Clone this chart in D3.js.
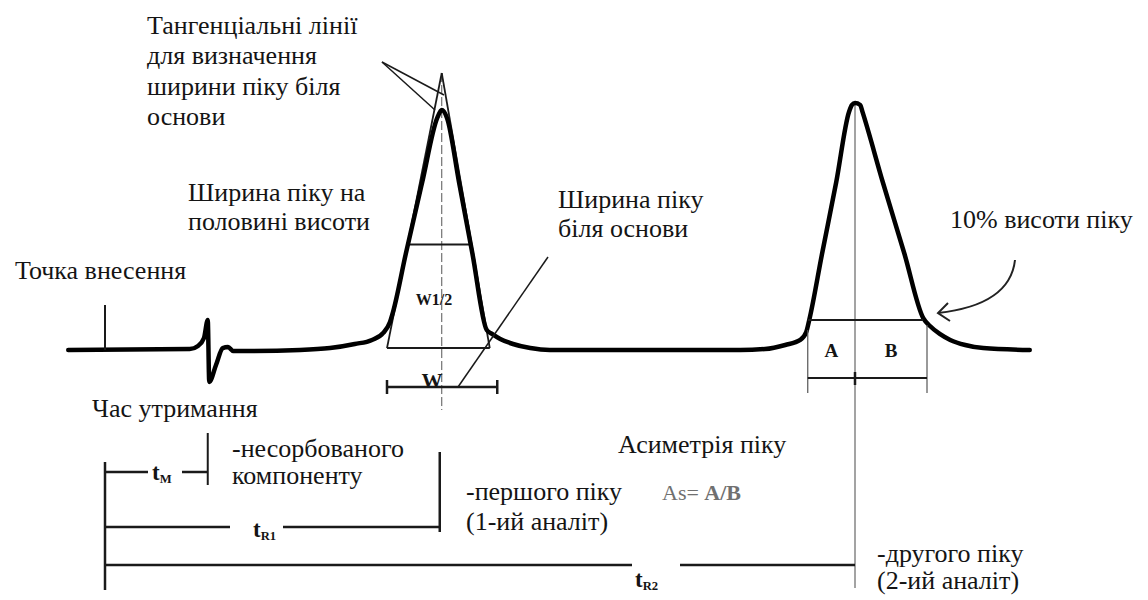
<!DOCTYPE html>
<html><head><meta charset="utf-8">
<script src="https://cdn.jsdelivr.net/npm/d3@7"></script>
<style>
body{margin:0;background:#fff}
svg{display:block}
text{font-family:"Liberation Serif","Times New Roman",serif;fill:#141414}
</style>
</head><body>
<svg id="c" width="1148" height="600"></svg>
<script>
// ---- data (time in arbitrary min, signal in % of peak 1 height) ----
const traceTime = [-0.49, 1.13, 1.24, 1.32, 1.37, 1.39, 1.48, 1.57, 1.64, 1.71, 1.87, 2.6, 3.0, 3.33, 3.56, 3.71, 3.8, 3.84, 4.01, 4.23, 4.43, 4.49, 4.56, 4.72, 4.90, 5.09, 5.16, 5.27, 5.44, 5.67, 5.93, 8.47, 8.8, 9.07, 9.27, 9.35, 9.39, 9.56, 9.75, 9.92, 9.96, 10.0, 10.07, 10.1, 10.37, 10.66, 10.91, 11.0, 11.13, 11.27, 11.47, 11.71, 12.33];
const traceSignal = [0, 0.4, 1.7, 5, 12.5, -13.3, -6.25, 0.8, 1.25, -0.4, -0.4, 0, 0.8, 2.5, 4.2, 7.1, 11.7, 15.8, 40, 70, 96.7, 100, 96.7, 70, 40, 8.3, 6.7, 4.6, 2.5, 0.8, 0, 0, 0.4, 2.1, 4.2, 7.5, 12.5, 40, 70, 99.2, 102.1, 102.9, 102.1, 99.2, 70, 40, 13.3, 10, 6.7, 4.2, 2.1, 0.8, 0];
const injectionTime = 0;
const deadTime = 1.37;
const retentionTimes = [4.49, 10.0];
const tangentBase = [3.76, 5.13];
const tangentApexSignal = 115.4;
const halfHeightSignal = 44;
const baseWidthBar = [3.76, 5.23];
const tenPercentSignal = 12.5;
const tenPercentBounds = [9.37, 10.91];
const asymBounds = [9.37, 10.96];

const tangentNote = ["Тангенціальні лінії", "для визначення", "ширини піку біля", "основи"];
const halfWidthNote = ["Ширина піку на", "половині висоти"];
const baseWidthNote = ["Ширина піку", "біля основи"];
const tenPercentNote = ["10% висоти піку"];
const injectionNote = ["Точка внесення"];
const retentionNote = ["Час утримання"];
const unretainedNote = ["-несорбованого", "компоненту"];
const firstPeakNote = ["-першого піку", "(1-ий аналіт)"];
const secondPeakNote = ["-другого піку", "(2-ий аналіт)"];
const asymNote = ["Асиметрія піку"];
const formulaParts = ["As= ", "A/B"];
const bracketLabels = [["t", "M"], ["t", "R1"], ["t", "R2"]];
const asymLetters = ["A", "B"];

// ---- scales ----
const x = d3.scaleLinear().domain([0, 10]).range([105, 855]);
const y = d3.scaleLinear().domain([0, 100]).range([350, 110]);

const svg = d3.select("#c");
const g = svg.append("g");

const thin = (x1, y1, x2, y2, w = 2, col = "#1a1a1a", dash = null) => {
  const l = g.append("line").attr("x1", x1).attr("y1", y1).attr("x2", x2).attr("y2", y2)
    .attr("stroke", col).attr("stroke-width", w).attr("stroke-linecap", "butt");
  if (dash) l.attr("stroke-dasharray", dash);
  return l;
};

// center lines
thin(x(retentionTimes[0]), y(tangentApexSignal), x(retentionTimes[0]), 410, 1, "#555", "9,3");
thin(x(retentionTimes[1]), y(102.9), x(retentionTimes[1]), 588, 1.2, "#666");

// tangent lines
const apexX = x(retentionTimes[0]), apexY = y(tangentApexSignal);
thin(x(tangentBase[0]), y(0.8), apexX, apexY, 1.8);
thin(x(tangentBase[1]), y(0.8), apexX, apexY, 1.8);
thin(x(tangentBase[0]), y(0.8), x(tangentBase[1]), y(0.8), 2);
// half height line between tangents
const hy = y(halfHeightSignal);
const fx = (bx) => bx + (apexX - bx) * (y(0.8) - hy) / (y(0.8) - apexY);
thin(fx(x(tangentBase[0])), hy, fx(x(tangentBase[1])), hy, 2);

// main trace
const line = d3.line().x(d => x(d[0])).y(d => y(d[1])).curve(d3.curveMonotoneX);
g.append("path").datum(traceTime.map((t, i) => [t, traceSignal[i]]))
  .attr("d", line).attr("fill", "none").attr("stroke", "#000")
  .attr("stroke-width", 4.5).attr("stroke-linejoin", "round").attr("stroke-linecap", "round");

// injection mark
thin(x(injectionTime), y(0), x(injectionTime), y(18.75), 2);

// pointer lines for tangent note
thin(382, 62, 435, 110, 1.5);
thin(382, 62, 444, 95, 1.5);

// base width bar W
const wy = 387;
thin(x(baseWidthBar[0]), wy, x(baseWidthBar[1]), wy, 2.5);
thin(x(baseWidthBar[0]), wy - 7, x(baseWidthBar[0]), wy + 7, 2.5);
thin(x(baseWidthBar[1]), wy - 7, x(baseWidthBar[1]), wy + 7, 2.5);
g.append("text").attr("x", 432).attr("y", wy + 1).attr("text-anchor", "middle")
  .attr("font-size", 21).attr("font-weight", "bold").text("W");
g.append("text").attr("x", 434).attr("y", 305).attr("text-anchor", "middle")
  .attr("font-size", 16).attr("font-weight", "bold").text("W1/2");

// pointer from base width note
thin(548, 257, 458, 387, 1.5);

// peak 2 : 10% line and asymmetry bar
thin(x(tenPercentBounds[0]), y(tenPercentSignal), x(tenPercentBounds[1]), y(tenPercentSignal), 2);
thin(x(asymBounds[0]), 330, x(asymBounds[0]), 393, 1.2, "#555");
thin(x(asymBounds[1]), 325, x(asymBounds[1]), 393, 1.2, "#555");
thin(x(asymBounds[0]), 378, x(asymBounds[1]), 378, 2);
thin(x(retentionTimes[1]), 372, x(retentionTimes[1]), 385, 2.5);
g.append("text").attr("x", x((asymBounds[0] + retentionTimes[1]) / 2)).attr("y", 357)
  .attr("text-anchor", "middle").attr("font-size", 19).attr("font-weight", "bold").text(asymLetters[0]);
g.append("text").attr("x", x((asymBounds[1] + retentionTimes[1]) / 2)).attr("y", 357)
  .attr("text-anchor", "middle").attr("font-size", 19).attr("font-weight", "bold").text(asymLetters[1]);

// curved arrow
g.append("path").attr("d", "M1015,260 Q1010,305 938,313").attr("fill", "none")
  .attr("stroke", "#222").attr("stroke-width", 2);
g.append("path").attr("d", "M948,303 L938,313 L950,321").attr("fill", "none")
  .attr("stroke", "#222").attr("stroke-width", 2);

// bottom brackets
const bx0 = x(injectionTime);
thin(bx0, 462, bx0, 590, 2.5);
// tM
const yM = 472;
thin(bx0, yM, 148, yM, 2.5);
thin(182, yM, x(deadTime), yM, 2.5);
thin(x(deadTime), 433, x(deadTime), 485, 2);
// tR1
const yR1 = 527;
thin(bx0, yR1, 230, yR1, 2.5);
thin(283, yR1, x(retentionTimes[0]) - 2, yR1, 2.5);
thin(x(retentionTimes[0]) - 2, 452, x(retentionTimes[0]) - 2, 532, 2.5);
// tR2
const yR2 = 565;
thin(bx0, yR2, 632, yR2, 2.5);
thin(680, yR2, x(retentionTimes[1]), yR2, 2.5);

const tLabel = (cx, by, parts, size) => {
  const t = g.append("text").attr("x", cx).attr("y", by).attr("font-weight", "bold").attr("font-size", size);
  t.append("tspan").text(parts[0]);
  t.append("tspan").attr("font-size", size * 0.55).attr("dy", 3).text(parts[1]);
};
tLabel(152, 480, bracketLabels[0], 23);
tLabel(253, 537, bracketLabels[1], 23);
tLabel(635, 587, bracketLabels[2], 23);

// text blocks
const block = (lines, x0, y0, lh, size = 26, col) => {
  lines.forEach((s, i) => {
    const t = g.append("text").attr("x", x0).attr("y", y0 + i * lh).attr("font-size", size).text(s);
    if (col) t.style("fill", col);
  });
};
block(tangentNote, 147, 34, 30.3);
block(halfWidthNote, 188, 201, 28.5);
block(baseWidthNote, 558, 208, 29);
block(tenPercentNote, 950, 228, 28);
block(injectionNote, 15, 279, 28);
block(retentionNote, 92, 417, 28);
block(unretainedNote, 232, 457, 26.5);
block(firstPeakNote, 466, 500, 30);
block(asymNote, 618, 453, 28);
block(secondPeakNote, 877, 562, 26.5);

const f = g.append("text").attr("x", 662).attr("y", 500).attr("font-size", 22).style("fill", "#707070");
f.append("tspan").text(formulaParts[0]);
f.append("tspan").attr("font-weight", "bold").text(formulaParts[1]);
</script>
</body></html>
